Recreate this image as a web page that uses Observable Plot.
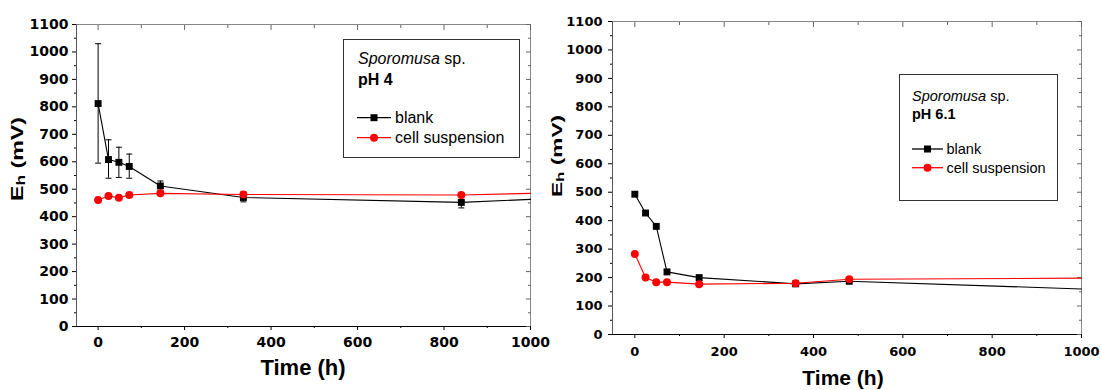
<!DOCTYPE html>
<html><head><meta charset="utf-8">
<script src="https://cdn.jsdelivr.net/npm/d3@7"></script>
<script src="https://cdn.jsdelivr.net/npm/@observablehq/plot@0.6"></script>
<style>
body{margin:0;background:#fff;}
#wrap{position:relative;width:1101px;height:390px;overflow:hidden;background:#fff;}
.panel{position:absolute;top:0;}
</style></head><body><div id="wrap"></div>
<script>
// ---------- data ----------
const yMajorTicks = [0,100,200,300,400,500,600,700,800,900,1000,1100];
const yMinorTicks = [50,150,250,350,450,550,650,750,850,950,1050];
const xMajorTicks = [0,200,400,600,800,1000];
const xMinorTicks = [100,300,500,700,900];
const xDomain = [-50, 1000];
const yDomain = [0, 1100];

// Panel A: pH 4
const timeA   = [0, 24, 48, 72, 144, 336, 840];
const blankA  = [812, 608, 598, 583, 512, 470, 452];
const blankALo = [595, 540, 543, 540, 495, 454, 432];
const blankAHi = [1030, 680, 653, 628, 530, 490, 472];
const cellA   = [461, 475, 469, 479, 485, 481, 479];
const tailTimeA = [1000];
const blankATail = [463];
const cellATail = [485];

// Panel B: pH 6.1
const timeB   = [0, 24, 48, 72, 144, 360, 480];
const blankB  = [493, 427, 380, 220, 200, 178, 187];
const cellB   = [283, 200, 184, 184, 177, 180, 194];
const tailTimeB = [1000];
const blankBTail = [160];
const cellBTail = [198];

const capSymbol = {draw(ctx){ ctx.moveTo(-3,0); ctx.lineTo(3,0); }};
const fmt = d => String(d);

function makePanel(o) {
  const blank = o.time.map((t,i)=>({t, v:o.blank[i]}));
  const cell = o.time.map((t,i)=>({t, v:o.cell[i]}));
  const blankLine = blank.concat(o.tailT.map((t,i)=>({t, v:o.blankTail[i]})));
  const cellLine = cell.concat(o.tailT.map((t,i)=>({t, v:o.cellTail[i]})));
  const err = o.lo ? o.time.map((t,i)=>({t, lo:o.lo[i], hi:o.hi[i]})) : [];
  const none = () => "";
  const marks = [
    Plot.ruleY([yDomain[1]], {stroke:"#888"}),
    Plot.ruleX([xDomain[1]], {stroke:"#888"}),
    Plot.ruleX([xDomain[0]], {stroke:"#555"}),
    Plot.ruleY([yDomain[0]], {stroke:"#000"}),
    Plot.axisY({anchor:"left", ticks:yMajorTicks, tickSize:4, tickPadding:o.padY, label:null, tickFormat:fmt}),
    Plot.axisY({anchor:"left", ticks:yMinorTicks, tickSize:2, tickFormat:none, label:null}),
    Plot.axisY({anchor:"right", ticks:yMajorTicks, tickSize:-5, tickFormat:none, label:null, stroke:"#666"}),
    Plot.axisY({anchor:"right", ticks:yMinorTicks, tickSize:-3, tickFormat:none, label:null, stroke:"#666"}),
    Plot.axisX({anchor:"bottom", ticks:xMajorTicks, tickSize:4, tickPadding:o.padX, label:null, tickFormat:fmt}),
    Plot.axisX({anchor:"bottom", ticks:xMinorTicks, tickSize:2, tickFormat:none, label:null}),
    Plot.axisX({anchor:"top", ticks:xMajorTicks, tickSize:-5, tickFormat:none, label:null, stroke:"#666"}),
    Plot.axisX({anchor:"top", ticks:xMinorTicks, tickSize:-3, tickFormat:none, label:null, stroke:"#666"}),
    Plot.line(blankLine, {x:"t", y:"v", stroke:"#000", strokeWidth:1.1}),
    Plot.ruleX(err, {x:"t", y1:"lo", y2:"hi", stroke:"#000", strokeWidth:1}),
    Plot.dot(err, {x:"t", y:"lo", symbol:capSymbol, stroke:"#000", strokeWidth:1}),
    Plot.dot(err, {x:"t", y:"hi", symbol:capSymbol, stroke:"#000", strokeWidth:1}),
    Plot.dot(blank, {x:"t", y:"v", symbol:"square", r:3.9, fill:"#000"}),
    Plot.line(cellLine, {x:"t", y:"v", stroke:"#ff0000", strokeWidth:1.1}),
    Plot.dot(cell, {x:"t", y:"v", symbol:"circle", r:4, fill:"#ff0000"})
  ];
  const svg = Plot.plot({
    width:o.width, height:390,
    marginLeft:o.ml, marginRight:o.mr, marginTop:o.mt, marginBottom:o.mb,
    x:{domain:xDomain, label:null},
    y:{domain:yDomain, label:null},
    style:{background:"#fff", color:"#000", overflow:"visible",
           fontFamily:"DejaVu Sans", fontWeight:"bold", fontSize:o.tickFs+"px"},
    marks
  });
  const s = d3.select(svg);
  // y label with subscript
  const yl = s.append("text")
    .attr("transform", `translate(${o.ylX},${o.ylY}) rotate(-90)`)
    .attr("text-anchor","middle")
    .attr("font-family","Liberation Sans, Arial, sans-serif")
    .attr("font-weight","bold")
    .attr("font-size", o.ylFs)
    .attr("fill","#000")
    .attr("textLength", o.ylLen)
    .attr("lengthAdjust","spacingAndGlyphs");
  yl.append("tspan").text("E");
  yl.append("tspan").attr("font-size", o.ylFs*0.75).attr("dy", 2).text("h");
  yl.append("tspan").attr("dy", -2).text(" (mV)");
  // x label
  s.append("text").attr("x", o.xlX).attr("y", o.xlY)
    .attr("text-anchor","middle")
    .attr("font-family","Liberation Sans, Arial, sans-serif")
    .attr("font-weight","bold").attr("font-size",o.xlFs).attr("fill","#000")
    .text("Time (h)");
  // legend
  const L = o.leg;
  const g = s.append("g").attr("font-family","Liberation Sans, Arial, sans-serif")
    .attr("font-weight","normal").attr("text-anchor","start").attr("fill","#000");
  g.append("rect").attr("x",L.x).attr("y",L.y).attr("width",L.w).attr("height",L.h)
    .attr("fill","#fff").attr("stroke","#333").attr("stroke-width",1);
  const t1 = g.append("text").attr("x",L.tx).attr("y",L.b1).attr("font-size",L.fs);
  t1.append("tspan").attr("font-style","italic").text("Sporomusa");
  t1.append("tspan").text(" sp.");
  g.append("text").attr("x",L.tx).attr("y",L.b2).attr("font-size",L.fs).attr("font-weight","bold").text(o.ph);
  const rows = [{name:"blank", color:"#000", sym:"sq", cy:L.c3, b:L.b3},
                {name:"cell suspension", color:"#ff0000", sym:"ci", cy:L.c4, b:L.b4}];
  for (const r of rows) {
    g.append("line").attr("x1",L.lx1).attr("x2",L.lx2).attr("y1",r.cy).attr("y2",r.cy)
      .attr("stroke",r.color).attr("stroke-width",1.3);
    const mx = (L.lx1+L.lx2)/2;
    if (r.sym==="sq") g.append("rect").attr("x",mx-3.5).attr("y",r.cy-3.5).attr("width",7).attr("height",7).attr("fill",r.color);
    else g.append("circle").attr("cx",mx).attr("cy",r.cy).attr("r",4).attr("fill",r.color);
    g.append("text").attr("x",L.ltx).attr("y",r.b).attr("font-size",L.fs).text(r.name);
  }
  return svg;
}

const wrap = document.getElementById("wrap");
const pA = makePanel({
  time:timeA, blank:blankA, cell:cellA, lo:blankALo, hi:blankAHi,
  tailT:tailTimeA, blankTail:blankATail, cellTail:cellATail,
  width:550, ml:76, mr:20, mt:24, mb:64, tickFs:14, padY:4, padX:7,
  ylX:23, ylY:159, ylFs:17, ylLen:84, xlX:303, xlY:375, xlFs:22, ph:"pH 4",
  leg:{x:343.5, y:39.5, w:176, h:118, tx:358, b1:64, b2:85, fs:16,
       lx1:357, lx2:391, ltx:395, c3:117.7, b3:123, c4:137.7, b4:143}
});
const pB = makePanel({
  time:timeB, blank:blankB, cell:cellB, lo:null, hi:null,
  tailT:tailTimeB, blankTail:blankBTail, cellTail:cellBTail,
  width:551, ml:62, mr:20, mt:21, mb:56, tickFs:13, padY:6, padX:8,
  ylX:12, ylY:156, ylFs:15, ylLen:82, xlX:293, xlY:385, xlFs:21, ph:"pH 6.1",
  leg:{x:349.5, y:74.5, w:158, h:126, tx:362, b1:101, b2:119, fs:14.5,
       lx1:362, lx2:393, ltx:396.5, c3:149, b3:154, c4:167.7, b4:172.5}
});
pA.classList.add("panel"); pA.style.left = "0px";
pB.classList.add("panel"); pB.style.left = "550px";
wrap.appendChild(pA); wrap.appendChild(pB);
</script></body></html>
